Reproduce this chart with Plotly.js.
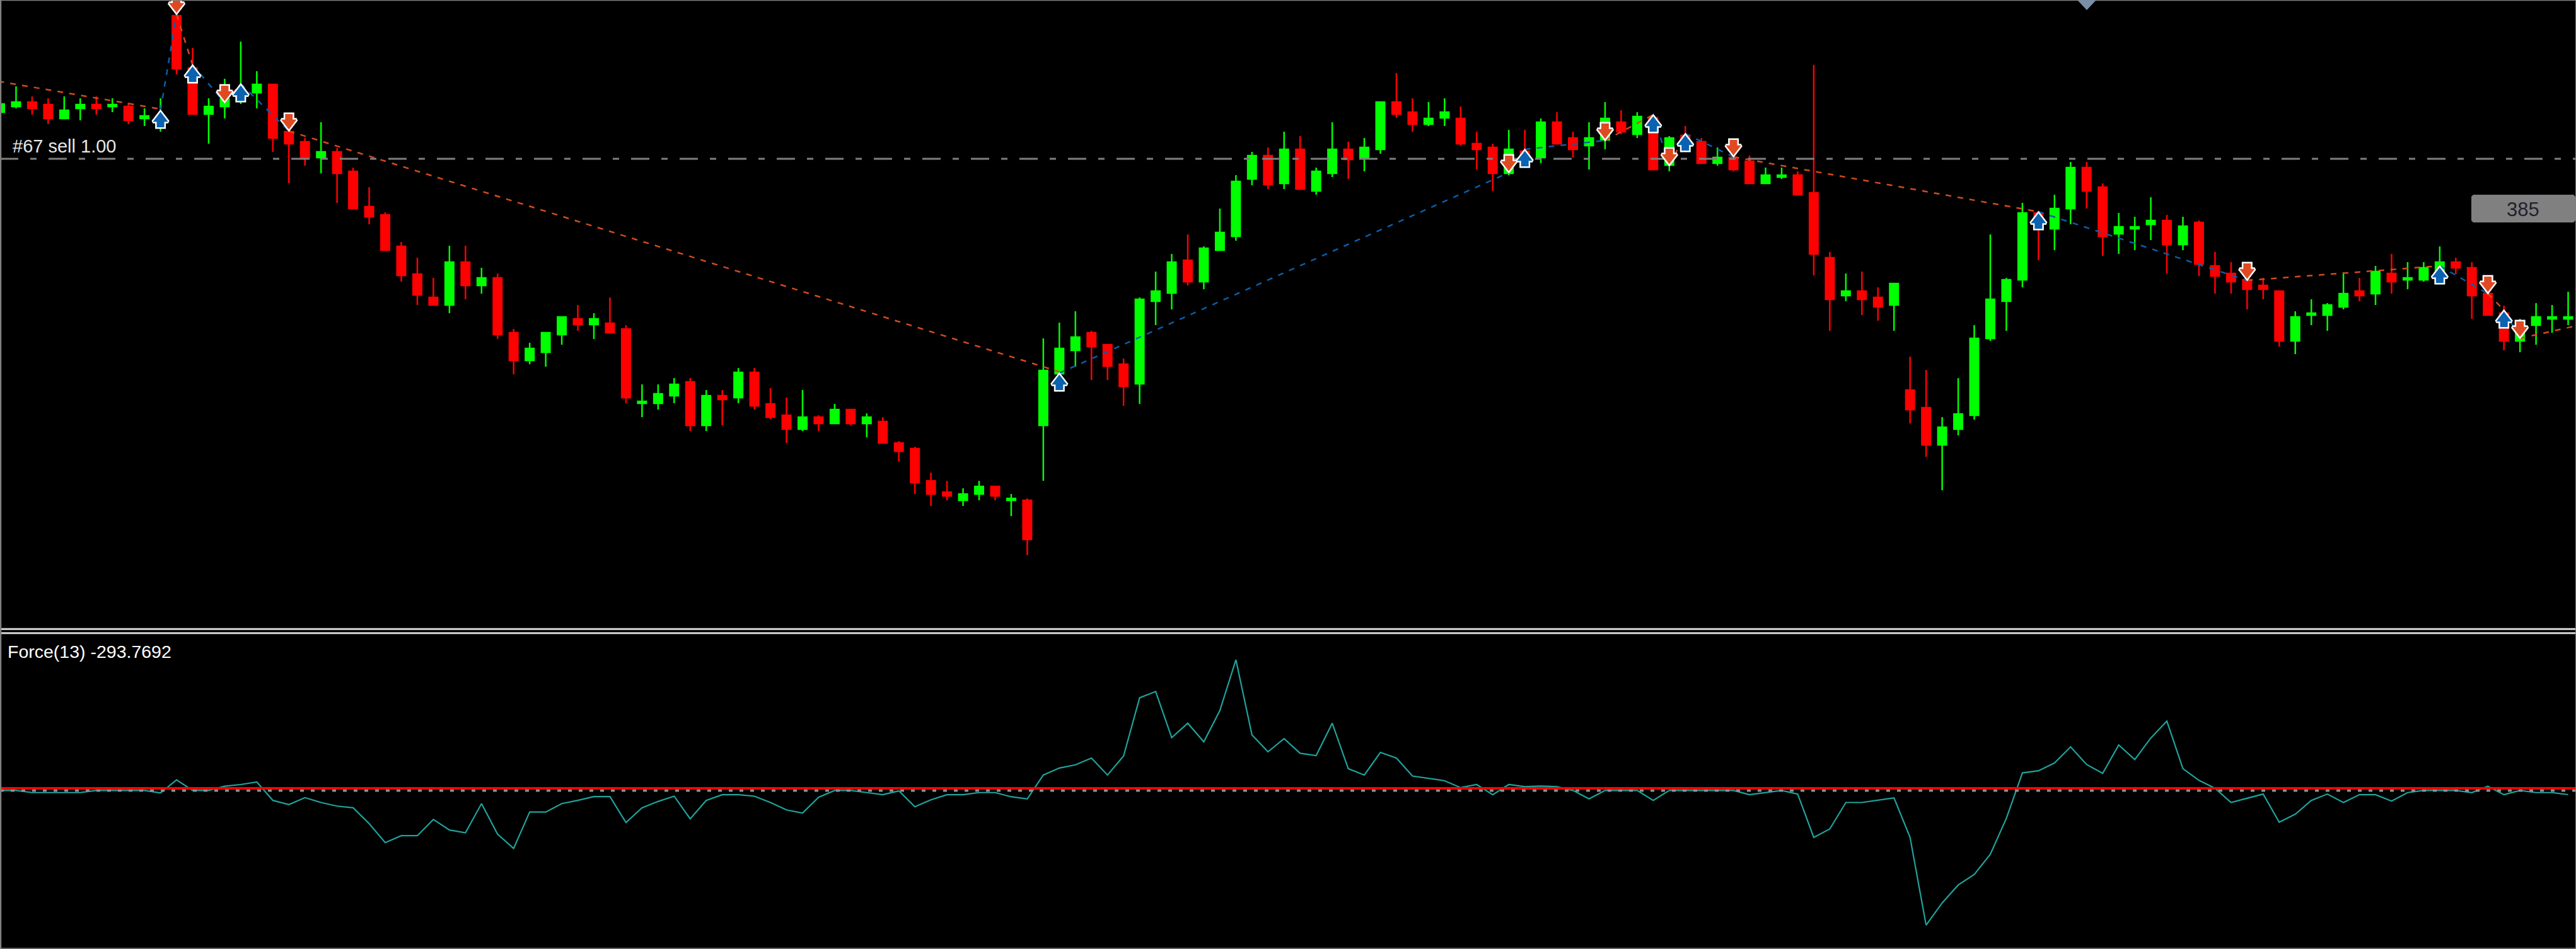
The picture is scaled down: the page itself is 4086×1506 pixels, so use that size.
<!DOCTYPE html>
<html>
<head>
<meta charset="utf-8">
<title>Force(13)</title>
<script src="https://cdn.plot.ly/plotly-3.0.1.min.js"></script>
<style>html,body{margin:0;padding:0;background:#000;overflow:hidden}#chart{width:4086px;height:1506px}</style>
</head>
<body>
<div id="chart"></div>
<script>
const opens=[822,831,838,834,812,828,834,831,831,812,800,975,892,819,831,845,853,866,791,775,750,759,728,672,659,609,565,528,516,584,547,559,472,428,441,469,494,485,487,478,360,360,372,394,325,372,369,409,359,341,319,338,328,350,328,331,297,288,237,219,206,216,228,206,206,325,407,444,472,453,422,391,522,535,587,553,603,625,716,753,709,763,697,725,763,750,763,838,822,803,813,812,772,766,725,760,750,806,781,769,778,806,787,813,738,785,775,741,750,744,709,719,722,694,591,531,538,528,516,381,353,294,319,341,463,522,556,662,637,669,734,703,629,637,644,650,612,647,578,566,556,547,538,459,500,500,513,538,534,566,556,556,560,584,575,534,503,459,484,494,494];
const highs=[842,863,847,844,847,844,847,844,837,828,844,995,924,844,875,934,887,866,795,781,806,765,734,703,663,616,591,559,610,610,575,566,478,456,472,497,516,503,528,484,390,390,400,400,381,381,416,416,384,369,381,341,359,350,344,338,300,291,250,237,225,237,228,216,209,463,488,506,475,453,431,528,569,597,628,609,669,722,759,766,791,784,734,806,775,781,838,884,844,838,844,831,791,772,794,794,812,822,791,806,838,825,822,818,784,800,781,766,753,753,734,734,728,897,600,566,569,544,550,434,413,338,400,484,628,559,678,664,691,743,743,709,662,656,687,659,656,650,600,584,560,559,538,506,525,519,568,559,578,597,584,584,609,591,584,537,515,494,519,516,537];
const lows=[819,828,818,803,812,809,818,822,803,800,791,882,819,772,812,835,828,759,709,737,725,678,669,644,603,553,516,516,503,525,534,462,406,422,418,453,475,462,472,360,338,350,360,316,316,325,360,350,335,297,316,316,328,325,306,297,268,216,197,206,197,206,206,181,119,237,405,418,397,397,356,359,484,509,547,541,603,618,706,700,700,700,691,719,716,728,756,813,791,800,800,769,731,697,722,738,741,772,750,731,763,787,781,731,728,765,741,737,728,709,709,716,691,563,475,522,500,491,475,328,275,222,309,334,459,475,544,587,603,644,669,594,597,603,619,566,603,562,534,534,509,525,450,438,484,475,509,522,516,534,541,553,555,565,494,500,444,441,453,472,484];
const closes=[835,838,828,812,825,834,828,834,809,816,815,891,819,831,843,855,866,781,772,750,759,725,669,656,603,563,532,516,584,547,559,469,428,447,472,497,485,494,472,369,363,375,390,325,372,366,409,356,338,319,338,328,350,328,338,297,284,234,216,213,216,228,213,209,144,412,447,465,450,419,387,525,538,584,553,606,631,712,753,707,763,700,728,763,747,766,838,819,803,812,822,772,763,725,763,740,806,772,763,781,812,791,815,731,781,768,741,750,731,709,722,722,691,597,525,538,525,513,550,350,294,322,343,463,525,556,662,638,669,734,697,625,640,640,650,612,641,581,562,553,541,541,459,497,503,516,534,531,569,553,559,575,584,575,531,500,459,472,497,497,497];
const force=[0,0,-150,-150,-150,-150,0,0,0,0,-180,750,0,0,300,420,600,-705,-1005,-510,-855,-1110,-1230,-2355,-3705,-3210,-3210,-2055,-2805,-3000,-930,-3105,-4110,-1530,-1530,-930,-705,-435,-435,-2280,-1230,-780,-405,-2010,-705,-300,-300,-405,-855,-1380,-1605,-480,0,0,-150,-300,-30,-1155,-660,-300,-300,-150,-150,-450,-600,1095,1590,1815,2295,1095,2445,6570,7020,3750,4770,3450,5670,9270,3945,2745,3675,2640,2475,4770,1545,1095,2700,2295,1020,840,690,200,420,-300,420,270,315,270,0,-600,0,0,0,-705,0,0,0,0,0,-300,-150,0,-255,-3330,-2730,-855,-855,-705,-525,-3330,-9555,-7980,-6705,-5955,-4530,-1980,1245,1395,1950,3090,1845,1215,3225,2190,3720,4920,1545,720,150,-855,-555,-255,-2250,-1680,-705,-255,-855,-300,-300,-750,-150,0,0,0,-150,300,-300,0,-150,-150,-294];
const buyBars=[10,12,15,66,95,103,105,127,152,156];
const buyPrices=[825,897,867,408,763,818,788,664,578,508];
const sellBars=[11,14,18,94,100,104,108,140,155,157];
const sellPrices=[977,837,792,726,777,737,751,555,534,463];
const sellLineX=[-0.1,10,null,11,12,null,14,15,null,18,66,null,94,95,null,100,103,null,104,105,null,108,127,null,140,152,null,155,156,null,157,160.5];
const sellLineY=[871,827,null,977,897,null,837,867,null,792,410,null,726,763,null,777,818,null,737,788,null,751,664,null,555,578,null,534,508,null,463,483];
const buyLineX=[10,11,null,12,14,null,15,18,null,66,94,null,95,100,null,103,104,null,105,108,null,127,140,null,152,155,null,156,157];
const buyLineY=[825,977,null,897,837,null,867,792,null,408,726,null,763,777,null,818,737,null,788,751,null,664,555,null,578,534,null,508,463];
const orderPrice=748;
const zeroLevel=0;
const redLevel=150;
const orderLabel="#67 sell 1.00";
const indicatorLabel="Force(13) -293.7692";
const tagLabel="385";

const W=4086,H=1506;
const px=x=>x/W, py=y=>1-y/H;
const bars=opens.map((_,i)=>i);
const xEnd=160.49;
const RED='#ff0000',GREEN='#00ff00',BLUE='#0a62b0',ORANGE='#e04a22';

function arrowTraces(xs,ps,dir,color){
  const head=dir>0?'triangle-up':'triangle-down';
  const headY=ps.map(p=>p-dir*13), stemY=ps.map(p=>p-dir*21);
  const mk=(y,symbol,size,withLine)=>({type:'scatter',mode:'markers',x:xs,y:y,xaxis:'x',yaxis:'y',hoverinfo:'skip',
    marker:{symbol:symbol,size:size,color:withLine?'#ffffff':color,line:{width:withLine?5:0,color:'#ffffff'}}});
  return [mk(stemY,'square',12,true),mk(headY,head,21,true),mk(stemY,'square',12,false),mk(headY,head,21,false)];
}

const data=[
 {type:'candlestick',x:bars,open:opens,high:highs,low:lows,close:closes,xaxis:'x',yaxis:'y',whiskerwidth:0,hoverinfo:'skip',
  increasing:{line:{color:GREEN,width:2.5},fillcolor:GREEN},decreasing:{line:{color:RED,width:2.5},fillcolor:RED}},
 {type:'scatter',mode:'lines',x:[0,xEnd],y:[orderPrice,orderPrice],xaxis:'x',yaxis:'y',hoverinfo:'skip',
  line:{color:'#808080',width:3,dash:'29px,19px,10px,19px'}},
 {type:'scatter',mode:'lines',x:sellLineX,y:sellLineY,xaxis:'x',yaxis:'y',hoverinfo:'skip',connectgaps:false,
  line:{color:'#d24a1e',width:2.5,dash:'9px,10px'}},
 {type:'scatter',mode:'lines',x:buyLineX,y:buyLineY,xaxis:'x',yaxis:'y',hoverinfo:'skip',connectgaps:false,
  line:{color:'#0a5ea8',width:2.5,dash:'9px,10px'}},
 ...arrowTraces(sellBars,sellPrices,-1,ORANGE),
 ...arrowTraces(buyBars,buyPrices,1,BLUE),
 {type:'scatter',mode:'lines',x:bars,y:force,xaxis:'x2',yaxis:'y2',hoverinfo:'skip',line:{color:'#1fa39d',width:2.2}},
 {type:'scatter',mode:'lines',x:[0,xEnd],y:[zeroLevel,zeroLevel],xaxis:'x2',yaxis:'y2',hoverinfo:'skip',line:{color:'#909090',width:4,dash:'6px,11px'}},
 {type:'scatter',mode:'lines',x:[0,xEnd],y:[redLevel,redLevel],xaxis:'x2',yaxis:'y2',hoverinfo:'skip',line:{color:RED,width:4}}
];

const hiddenAxis={visible:false,showgrid:false,zeroline:false,fixedrange:true};
const hline=(y,color,w)=>({type:'line',xref:'paper',yref:'paper',layer:'above',x0:0,x1:1,y0:py(y),y1:py(y),line:{color:color,width:w}});
const vline=(x,color,w)=>({type:'line',xref:'paper',yref:'paper',layer:'above',x0:px(x),x1:px(x),y0:0,y1:1,line:{color:color,width:w}});
const pathPaper=pts=>'M'+pts.map(p=>px(p[0])+','+py(p[1])).join(' L')+' Z';

const layout={
  width:W,height:H,autosize:false,margin:{l:0,r:0,t:0,b:0,pad:0},
  paper_bgcolor:'#000',plot_bgcolor:'#000',showlegend:false,boxgap:0.47,boxgroupgap:0,
  xaxis:{...hiddenAxis,domain:[0,1],range:[0,xEnd],rangeslider:{visible:false},anchor:'y'},
  yaxis:{...hiddenAxis,domain:[py(996),1],range:[4,1000],anchor:'x'},
  xaxis2:{...hiddenAxis,domain:[0,1],range:[0,xEnd],anchor:'y2'},
  yaxis2:{...hiddenAxis,domain:[py(1505),py(1008)],range:[-11202,11014],anchor:'x2'},
  shapes:[
    hline(0.5,'#808080',1.5),
    hline(998.3,'#d8d8d8',3),
    hline(1004.7,'#d8d8d8',3),
    hline(1505,'#808080',1.5),
    vline(1,'#808080',2.5),
    vline(4085.5,'#808080',1),
    {type:'path',xref:'paper',yref:'paper',layer:'above',fillcolor:'#7a8fa6',line:{width:0},
     path:pathPaper([[3295,0],[3325,0],[3310,16]])},
    {type:'path',xref:'paper',yref:'paper',layer:'above',fillcolor:'#808080',line:{width:0},
     path:pathPaper([[3923,309],[4082,309],[4085,312],[4085,350],[4082,353],[3923,353],[3920,350],[3920,312]])}
  ],
  annotations:[
    {xref:'paper',yref:'paper',x:px(18),y:py(232),xanchor:'left',yanchor:'middle',showarrow:false,text:orderLabel,
     font:{family:'Liberation Sans',size:29,color:'#e6e6e6'}},
    {xref:'paper',yref:'paper',x:px(10),y:py(1034),xanchor:'left',yanchor:'middle',showarrow:false,text:indicatorLabel,
     font:{family:'Liberation Sans',size:28.5,color:'#ffffff'}},
    {xref:'paper',yref:'paper',x:px(4002),y:py(332),xanchor:'center',yanchor:'middle',showarrow:false,text:tagLabel,
     font:{family:'Liberation Sans',size:31,color:'#20202c'}}
  ]
};
Plotly.newPlot('chart',data,layout,{staticPlot:true,displayModeBar:false,responsive:false});
</script>
</body>
</html>
